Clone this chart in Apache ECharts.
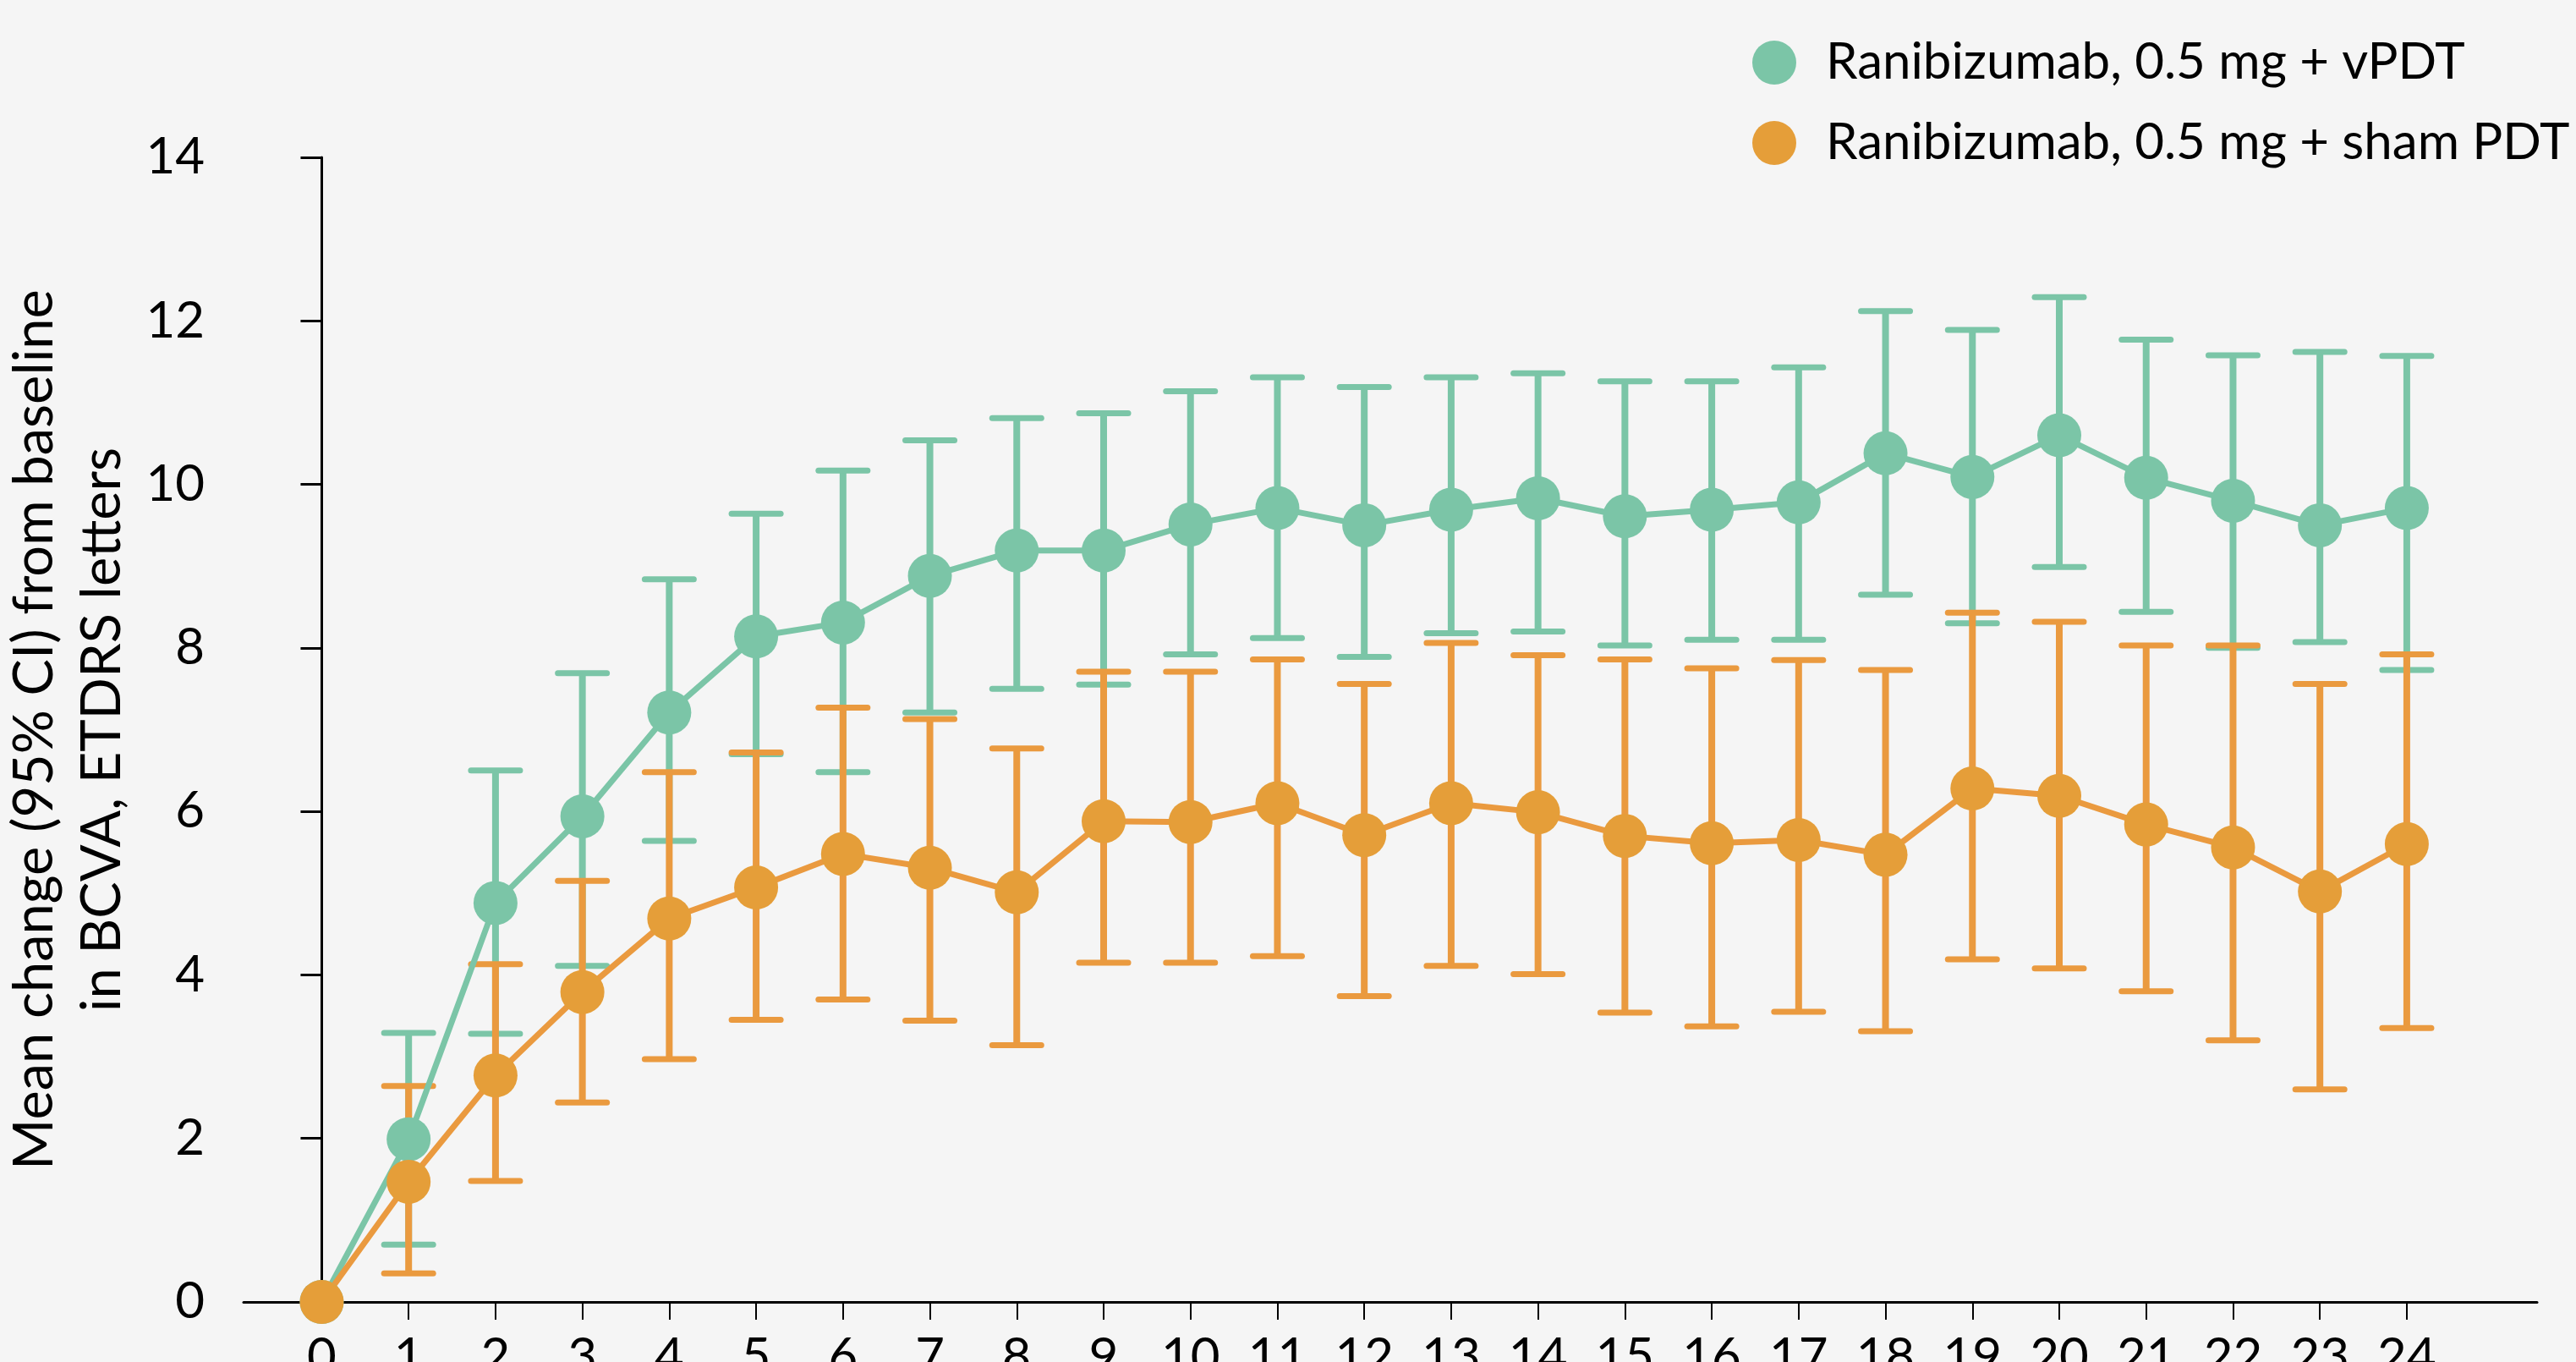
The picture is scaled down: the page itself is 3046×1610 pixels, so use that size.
<!DOCTYPE html>
<html>
<head>
<meta charset="utf-8">
<script src="https://cdn.jsdelivr.net/npm/echarts@6/dist/echarts.min.js"></script>
<style>
  html, body { margin: 0; padding: 0; background: #f5f5f5; }
  #chart { width: 3046px; height: 1610px; }
</style>
</head>
<body>
<div id="chart"></div>
<script>
// Month of visit
const months = [0, 1, 2, 3, 4, 5, 6, 7, 8, 9, 10, 11, 12, 13, 14, 15, 16, 17, 18, 19, 20, 21, 22, 23, 24];

// Ranibizumab 0.5 mg + vPDT: mean change and 95% CI bounds
const vpdtMean = [0, 1.99, 4.88, 5.94, 7.21, 8.14, 8.31, 8.88, 9.19, 9.19, 9.51, 9.71, 9.50, 9.69, 9.83, 9.61, 9.69, 9.78, 10.38, 10.09, 10.60, 10.08, 9.80, 9.50, 9.71];
const vpdtLow  = [null, 0.70, 3.28, 4.11, 5.64, 6.70, 6.48, 7.21, 7.50, 7.55, 7.92, 8.12, 7.89, 8.18, 8.20, 8.03, 8.10, 8.10, 8.65, 8.30, 8.99, 8.44, 8.00, 8.07, 7.73];
const vpdtHigh = [null, 3.29, 6.50, 7.69, 8.84, 9.64, 10.17, 10.54, 10.81, 10.87, 11.14, 11.31, 11.19, 11.31, 11.36, 11.26, 11.26, 11.43, 12.12, 11.89, 12.29, 11.77, 11.58, 11.62, 11.57];

// Ranibizumab 0.5 mg + sham PDT: mean change and 95% CI bounds
const shamMean = [0, 1.47, 2.77, 3.79, 4.69, 5.07, 5.48, 5.31, 5.01, 5.88, 5.87, 6.10, 5.71, 6.10, 5.99, 5.70, 5.61, 5.65, 5.47, 6.28, 6.19, 5.84, 5.56, 5.02, 5.60];
const shamLow  = [null, 0.35, 1.48, 2.44, 2.97, 3.45, 3.70, 3.44, 3.14, 4.15, 4.15, 4.23, 3.74, 4.11, 4.01, 3.54, 3.37, 3.55, 3.31, 4.19, 4.08, 3.80, 3.20, 2.60, 3.35];
const shamHigh = [null, 2.64, 4.13, 5.15, 6.48, 6.72, 7.27, 7.13, 6.77, 7.71, 7.71, 7.86, 7.56, 8.06, 7.91, 7.86, 7.75, 7.85, 7.73, 8.43, 8.32, 8.03, 8.03, 7.56, 7.92];

const yTicks = [0, 2, 4, 6, 8, 10, 12, 14];

const seriesNames = ['Ranibizumab, 0.5 mg + vPDT', 'Ranibizumab, 0.5 mg + sham PDT'];
const GREEN = '#7bc5a7';
const ORANGE = '#e59e39';
const ORANGE_BAR = '#ea9a3f';
const FONT = 'Lato';

function points(mean) {
  return months.map((m, i) => [m, mean[i]]);
}
function ciRows(low, high) {
  return months.map((m, i) => [m, low[i], high[i]]).filter(r => r[1] !== null);
}
// Vertical whisker with a rounded cap at each end of the interval
function errorBars(color) {
  return function (params, api) {
    const x = api.value(0);
    const top = api.coord([x, api.value(2)]);
    const bot = api.coord([x, api.value(1)]);
    const half = 29;
    const style = { stroke: color, lineWidth: 7, lineCap: 'round' };
    return {
      type: 'group',
      children: [
        { type: 'line', shape: { x1: top[0], y1: top[1], x2: bot[0], y2: bot[1] }, style: { stroke: color, lineWidth: 8 } },
        { type: 'line', shape: { x1: top[0] - half, y1: top[1], x2: top[0] + half, y2: top[1] }, style: style },
        { type: 'line', shape: { x1: bot[0] - half, y1: bot[1], x2: bot[0] + half, y2: bot[1] }, style: style }
      ]
    };
  };
}

const chart = echarts.init(document.getElementById('chart'));
chart.setOption({
  backgroundColor: '#f5f5f5',
  animation: false,
  textStyle: { fontFamily: FONT },
  grid: { left: 288, right: 46, top: 186, bottom: 71, outerBoundsMode: 'none' },
  legend: {
    orient: 'vertical',
    left: 2067,
    top: 39,
    itemWidth: 52,
    itemHeight: 52,
    itemGap: 35,
    icon: 'circle',
    data: seriesNames,
    textStyle: { fontFamily: FONT, fontSize: 60, color: '#000', padding: [0, 0, 0, 30] }
  },
  xAxis: {
    type: 'value',
    min: -0.9,
    max: 25.5,
    splitLine: { show: false },
    axisLine: { show: true, onZero: false, lineStyle: { color: '#000', width: 3 } },
    axisTick: { show: true, customValues: months, length: 21, lineStyle: { color: '#000', width: 2 } },
    axisLabel: { customValues: months, fontFamily: FONT, fontSize: 60, color: '#000', margin: 36 }
  },
  yAxis: {
    type: 'value',
    min: 0,
    max: 14,
    interval: 2,
    splitLine: { show: false },
    axisLine: { show: true, lineStyle: { color: '#000', width: 3 } },
    axisTick: { show: true, length: 25, lineStyle: { color: '#000', width: 3 } },
    axisLabel: { fontFamily: FONT, fontSize: 60, color: '#000', margin: 46,
      formatter: v => yTicks.includes(v) ? String(v) : '' },
    name: 'Mean change (95% CI) from baseline\nin BCVA, ETDRS letters',
    nameLocation: 'middle',
    nameGap: 127,
    nameRotate: 90,
    nameTextStyle: { fontFamily: FONT, fontSize: 65, color: '#000', lineHeight: 80 }
  },
  series: [
    {
      name: seriesNames[0],
      type: 'line',
      data: points(vpdtMean),
      symbol: 'circle',
      symbolSize: 52,
      itemStyle: { color: GREEN },
      lineStyle: { color: GREEN, width: 7 }
    },
    {
      name: 'vPDT 95% CI',
      type: 'custom',
      data: ciRows(vpdtLow, vpdtHigh),
      encode: { x: 0, y: [1, 2] },
      renderItem: errorBars(GREEN)
    },
    {
      name: seriesNames[1],
      type: 'line',
      data: points(shamMean),
      symbol: 'circle',
      symbolSize: 52,
      itemStyle: { color: ORANGE },
      lineStyle: { color: ORANGE_BAR, width: 7 }
    },
    {
      name: 'sham PDT 95% CI',
      type: 'custom',
      data: ciRows(shamLow, shamHigh),
      encode: { x: 0, y: [1, 2] },
      renderItem: errorBars(ORANGE_BAR)
    }
  ]
});
</script>
</body>
</html>
